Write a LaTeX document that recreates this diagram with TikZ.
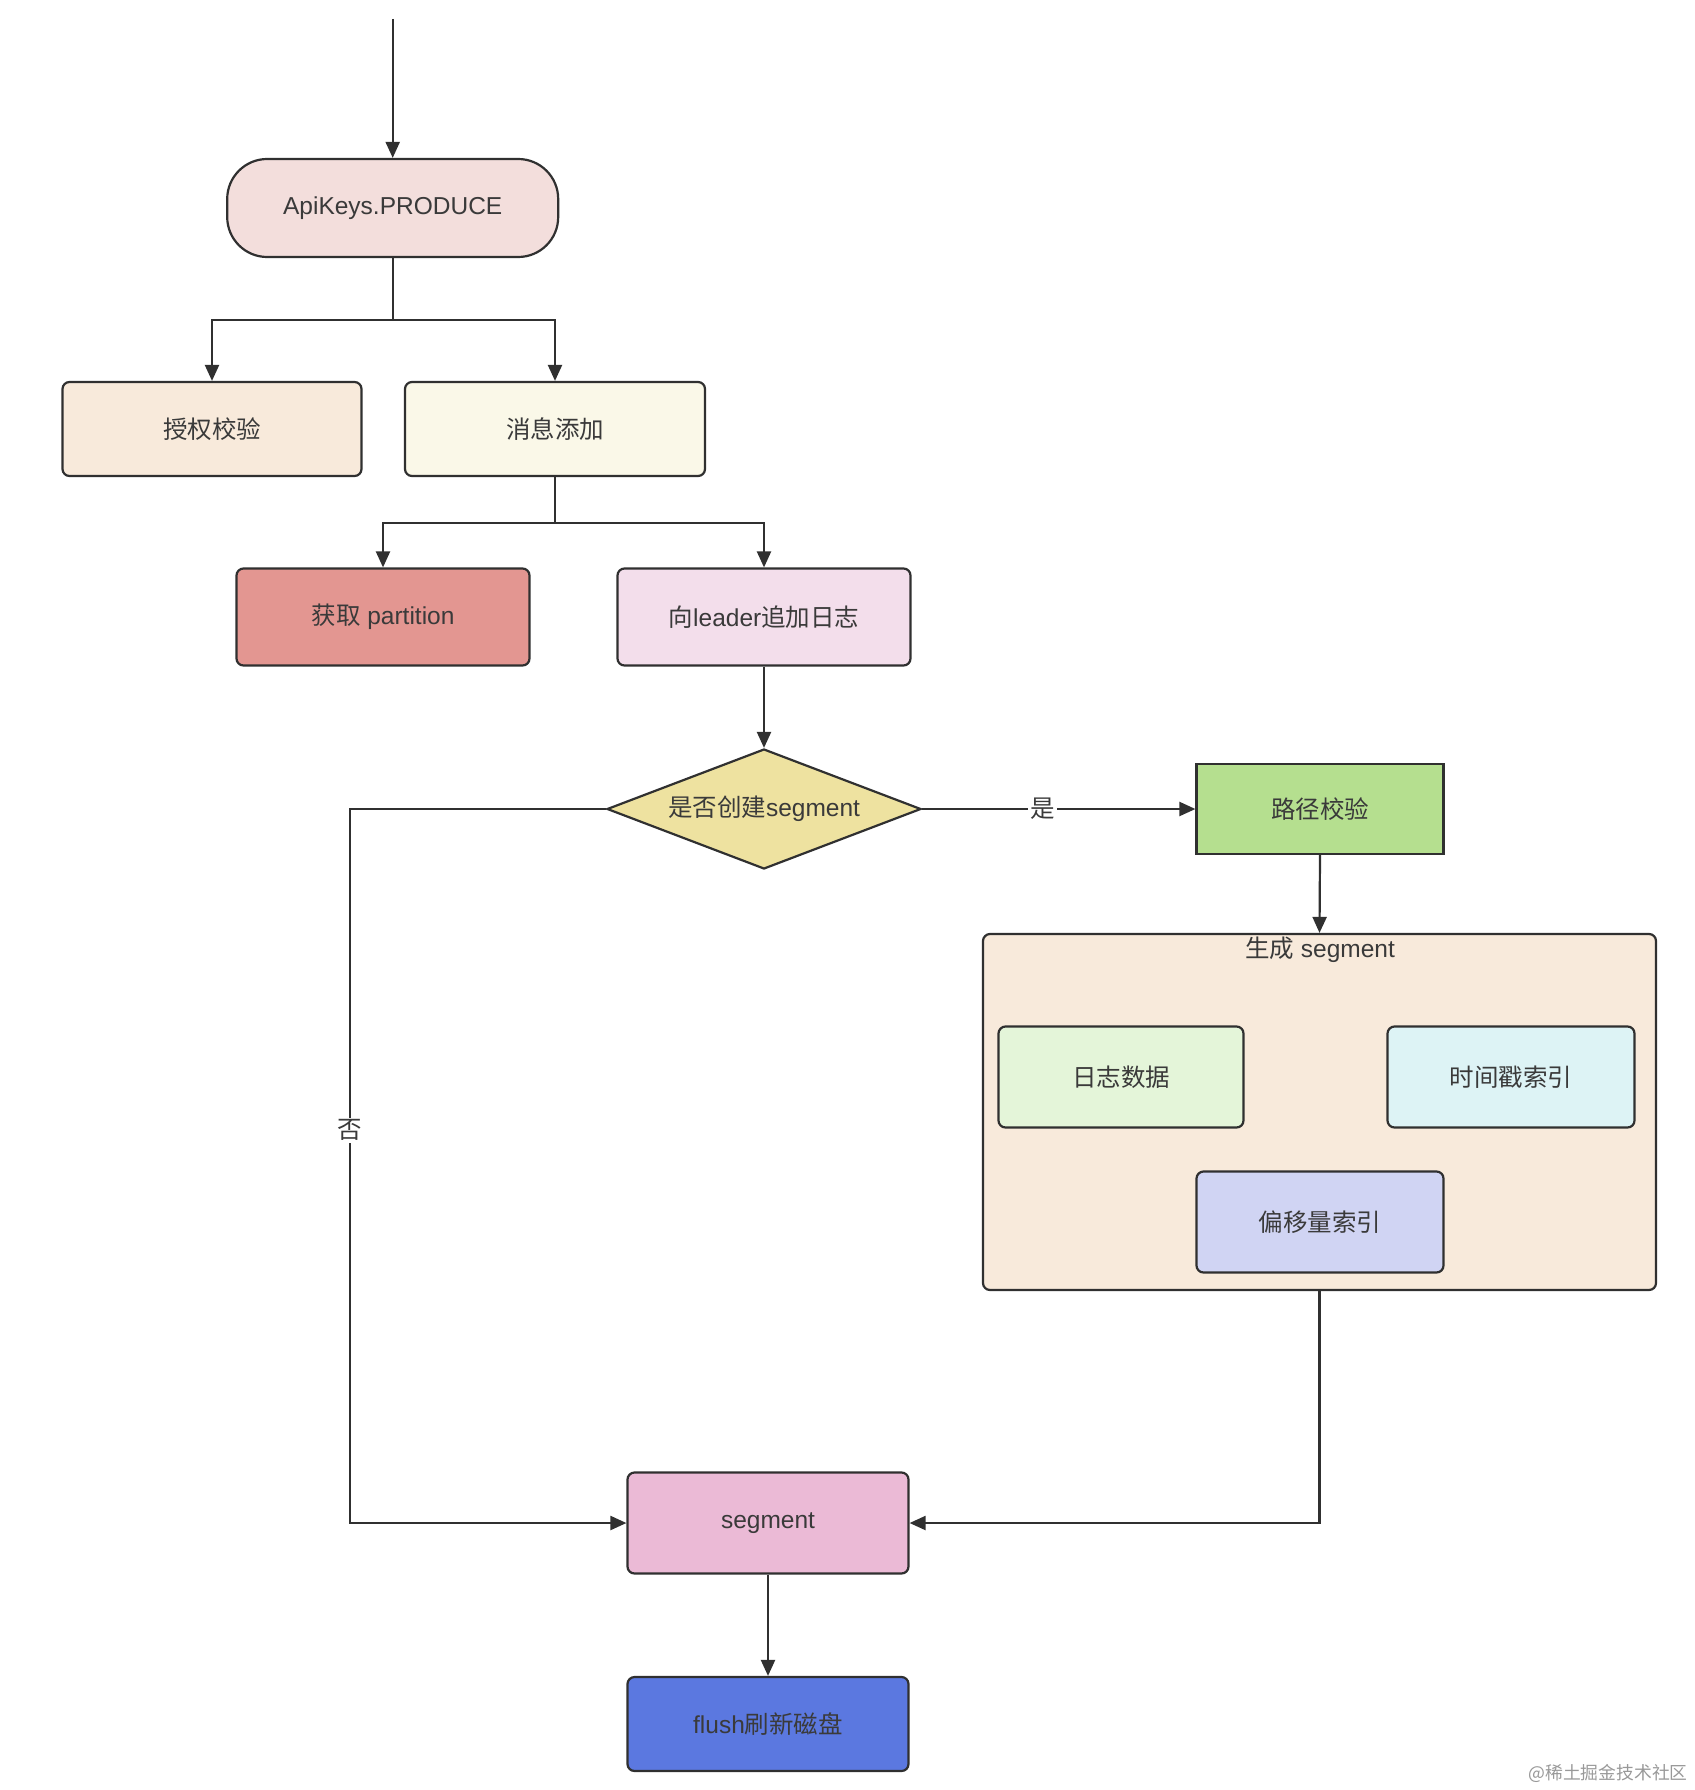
\documentclass[tikz,border=0pt]{standalone}
\usepackage{fontspec}
\setmainfont{Liberation Sans}
\newfontfamily\cjk{Noto Sans CJK SC}
\usetikzlibrary{shapes.geometric,arrows.meta}
\definecolor{linec}{HTML}{303030}
\definecolor{textc}{HTML}{3A3A3A}
\definecolor{apic}{HTML}{F3DEDC}
\definecolor{authc}{HTML}{F8EADB}
\definecolor{msgc}{HTML}{FAF8E8}
\definecolor{partc}{HTML}{E39691}
\definecolor{leadc}{HTML}{F3DEEB}
\definecolor{diac}{HTML}{EEE2A0}
\definecolor{pathc}{HTML}{B5DF8F}
\definecolor{contc}{HTML}{F8EADB}
\definecolor{logc}{HTML}{E4F5D9}
\definecolor{tsc}{HTML}{DDF3F5}
\definecolor{offc}{HTML}{D0D4F3}
\definecolor{segc}{HTML}{EBBAD6}
\definecolor{flushc}{HTML}{5B78E0}
\begin{document}
\begin{tikzpicture}[x=1pt,y=-1pt,
  box/.style={draw=linec, line width=2.2pt, rounded corners=7pt, inner sep=0pt,
    text=textc, font=\fontsize{24.5}{28}\selectfont},
  line/.style={draw=linec, line width=2.2pt},
  arr/.style={draw=linec, line width=2.2pt, -{Triangle[length=16pt,width=14pt]}},
  lbl/.style={fill=white, inner sep=2pt, text=textc, font=\fontsize{24.5}{28}\selectfont\cjk}
]
\useasboundingbox (0,0) rectangle (1694,1790);
\fill[white] (0,0) rectangle (1694,1790);

% nodes
\node[box, fill=apic, minimum width=331pt, minimum height=98pt, rounded corners=40pt] (api) at (392.7,208) {ApiKeys.PRODUCE};
\node[box, fill=authc, minimum width=299pt, minimum height=94pt] (auth) at (212,429) {\cjk 授权校验};
\node[box, fill=msgc, minimum width=300pt, minimum height=94pt] (msg) at (555,429) {\cjk 消息添加};
\node[box, fill=partc, minimum width=293pt, minimum height=97pt] (part) at (383,617) {{\cjk 获取} partition};
\node[box, fill=leadc, minimum width=293pt, minimum height=97pt] (lead) at (764,617) {{\cjk 向}leader{\cjk 追加日志}};
\node[box, diamond, rounded corners=0pt, fill=diac, minimum width=314pt, minimum height=120pt, aspect=2.6] (dia) at (764,809) {{\cjk 是否创建}segment};
\node[box, fill=pathc, rounded corners=0pt, minimum width=247pt, minimum height=90pt] (path) at (1320,809) {\cjk 路径校验};
\node[box, fill=contc, minimum width=673pt, minimum height=356pt] (cont) at (1319.5,1112) {};
\node[text=textc, font=\fontsize{24.5}{28}\selectfont, inner sep=0pt] (contlabel) at (1320,950) {{\cjk 生成} segment};
\node[box, fill=logc, minimum width=245pt, minimum height=101pt] (log) at (1121,1077) {\cjk 日志数据};
\node[box, fill=tsc, minimum width=247pt, minimum height=101pt] (ts) at (1511,1077) {\cjk 时间戳索引};
\node[box, fill=offc, minimum width=247pt, minimum height=101pt] (off) at (1320,1222) {\cjk 偏移量索引};
\node[box, fill=segc, minimum width=281pt, minimum height=101pt] (seg) at (768,1523) {segment};
\node[box, fill=flushc, minimum width=281pt, minimum height=94pt] (flush) at (768,1724) {flush{\cjk 刷新磁盘}};
\node[text=black!40, font=\fontsize{17.8}{20}\selectfont\cjk, inner sep=0pt] (wm) at (1608,1773) {@稀土掘金技术社区};

% connectors
\coordinate (start) at (392.7,19);
\coordinate (j1) at (392.7,319.6);
\coordinate (j2) at (555,522.8);
\coordinate (nA) at (350,809);
\draw[arr] (start) -- (api.north);
\draw[line] (api.south) -- (j1);
\draw[arr] (j1) -| (auth.north);
\draw[arr] (j1) -| (msg.north);
\draw[line] (msg.south) -- (j2);
\draw[arr] (j2) -| (part.north);
\draw[arr] (j2) -| (lead.north);
\draw[arr] (lead.south) -- (dia.north);
\draw[arr] (dia.east) -- node[lbl, pos=0.44] {是} (path.west);
\draw[arr] (path.south) -- (cont.north);
\draw[arr] (dia.west) -- (nA) |- node[lbl, pos=0.225] {否} (seg.west);
\draw[arr] (cont.south) |- (seg.east);
\draw[arr] (seg.south) -- (flush.north);
\end{tikzpicture}
\end{document}
